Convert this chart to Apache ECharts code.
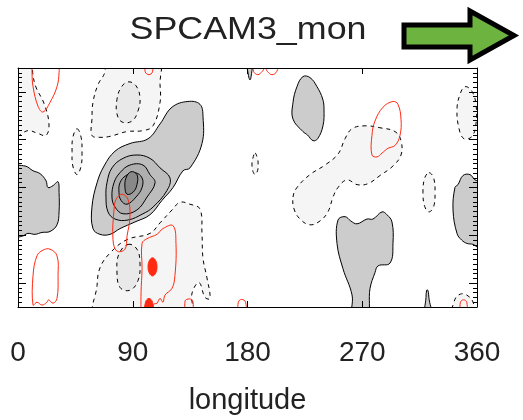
<!DOCTYPE html>
<html>
<head>
<meta charset="utf-8">
<script src="https://cdn.jsdelivr.net/npm/echarts@6/dist/echarts.min.js"></script>
<style>html,body{margin:0;padding:0;background:#fff;}#c{width:523px;height:420px;}</style>
</head>
<body>
<div id="c"></div>
<script>
// ---- axis values ----
const lonTicks = [0, 90, 180, 270, 360];
const latMajorTicks = [-20, -10, 0, 10, 20];
const latRange = [-25, 25];

// ---- negative contours (dashed, light fill) : [lon, lat] ----
const negTopLeft = [[-3,27],[11,27],[11.5,24],[14.1,21],[20.4,17.6],[24.3,13.3],[22,10.9],[15.7,11.3],[7.8,11.9],[-3,10.7]];
const negTopCenter = [[69.8,27],[68,24],[62.7,21.5],[58.8,17.8],[58,14.3],[58,10.9],[64.3,10.5],[72.2,10.7],[85.5,11.7],[98,11.9],[105.9,12.9],[111.4,17.8],[111.4,21.5],[109.8,27]];
const negSmallLeft = [[46.3,12.3],[49.5,10.5],[50.2,7.5],[49.5,4.5],[46.3,2.7],[43,4.5],[42.4,7.5],[43,10.5]];
const negLowerCenter = [[61.2,-27],[62,-20.5],[64.3,-16.8],[72.2,-13.7],[85.5,-10.9],[103.5,-9.6],[111.4,-7.4],[120.8,-4.7],[127.1,-3.1],[134.9,-3.5],[142.7,-4.5],[144.3,-9.6],[145.1,-14.8],[148.2,-18.9],[150.6,-23.2],[146.7,-23],[142,-19.9],[136.5,-22.1],[134.9,-27]];
const negUpperRight = [[215.7,-2],[218.8,0],[229,2.7],[240.8,4.7],[251,7],[256.5,10.2],[262,12.3],[272.2,12.9],[283.9,12.5],[295.7,11.7],[300.4,9.8],[300.4,6.8],[294.1,4.5],[283.9,2.5],[274.5,0.8],[265.9,0.6],[258,1.6],[251,0],[247.1,-2],[243.1,-5.1],[236.9,-7],[229,-7.8],[221.2,-6.6],[216.5,-4.5]];
const negRightEllipse = [[350.6,21.1],[356.1,20.1],[359.2,17.4],[359.2,13.3],[356.1,10.7],[349.8,10.2],[345.9,12.3],[344.3,16.4],[346.7,19.5]];
const negSmallRight = [[322.4,3.1],[326,2],[327.1,-1],[326,-4],[322.4,-5.1],[319,-4],[317.6,-1],[319,2]];
const negTinyMid = [[185.9,7.2],[188,5.9],[188.3,4.9],[188,3.6],[185.9,2.7],[184,3.6],[183.5,4.9],[184,5.9]];
const negBottomRight = [[341.2,-27],[342.5,-23.5],[347,-22.3],[352,-22.5],[356.9,-24],[357.5,-27]];
// second negative level
const negInnerTop = [[86.3,22.1],[92.5,21.3],[95.7,18.8],[94.1,16],[89.4,13.9],[81.6,13.7],[77.6,15.4],[77.6,18.4],[80.8,20.9]];
const negInnerLower = [[86.3,-11.9],[93.3,-12.9],[95.7,-16],[94.1,-19.5],[87.8,-21.5],[80,-20.9],[77.6,-17.4],[79.2,-13.9]];

// ---- positive contours (solid, grey fill) ----
const posBigL1 = [[58.8,-8.6],[58,-4.1],[62,1],[67.5,4.5],[76.1,7.6],[87.8,9.2],[102,10.2],[111.4,13.3],[120.8,16.8],[133.3,18],[142.7,17.4],[145.1,14.8],[144.3,9.2],[134.9,4.1],[129.4,3.5],[121.6,0],[112.9,-2.7],[103.5,-5.7],[91.8,-7.2],[80,-8.6],[72.2,-9.8],[64.3,-9.8]];
const posLeft = [[-3,4.1],[5.5,4.5],[11.8,3.5],[17.3,2.9],[22,1.4],[23.5,0],[27.5,0.4],[31.4,1.2],[32.2,-1],[32.2,-5.1],[30.6,-7.8],[25.1,-9.2],[18.8,-9.4],[13.3,-9.8],[7.8,-9.6],[3.1,-10.2],[-3,-10.2]];
const posTopMid = [[223.5,23.2],[229,23],[234.5,21.1],[239,18.5],[240,16.4],[239.2,12.9],[235,10.2],[231.4,9.8],[227,11],[223.5,11.7],[215.7,14.3],[215.7,17.8],[218.8,21.1]];
const posTopSpike = [[179.6,27],[184.3,27],[183.5,24.5],[182,22.5],[180.4,24]];
const posBottomMid = [[251,-6.8],[256.5,-6.1],[261,-7],[265.9,-7.6],[273.7,-6.6],[278.4,-6.6],[285.5,-5.1],[289.4,-5.7],[293.3,-7.2],[294.1,-11.7],[291.8,-15.8],[282.4,-16.4],[280,-17.8],[276.1,-21.1],[273.7,-27],[262.7,-27],[262,-22.5],[254.9,-17],[250.2,-11.7]];
const posRight = [[363,1],[358.4,1.6],[354.5,2.7],[349,2.5],[345.1,0.6],[342.7,0],[341.2,-4.7],[344.3,-9.6],[348,-11],[352.2,-11.7],[356.9,-11.9],[363,-12.7]];
const posBottomSpike = [[319.2,-27],[320,-23],[320.5,-21.5],[321.5,-21.5],[322.5,-23.5],[324.7,-27]];
const posBigL2 = [[69,-2],[69.8,1],[73.7,4.1],[82.4,6.1],[93.3,6.8],[103.5,6.1],[111.4,4.1],[119.2,2],[116.9,-0.6],[105.9,-4.1],[98,-5.5],[86.3,-6.8],[76.1,-6.6],[70.6,-5.1]];
const posBigL3 = [[73.7,-2],[75.3,1],[80,3.1],[87.8,4.7],[98,4.7],[103.5,2.7],[107.5,1],[101.2,-2],[93.3,-4.7],[82.4,-5.5],[76.1,-4.1]];
const posBigL4 = [[79.2,-1],[80,1],[84.7,2.5],[91.8,3.1],[97.3,2],[97.3,0],[92.5,-2],[85.5,-3.5],[80.8,-2.7]];
const posBigL5 = [[83.9,0],[84.7,2],[88.6,3.3],[93.3,2.7],[93.3,0.6],[90.2,-1],[85.5,-1.4]];

// ---- red contours (second field) ----
const redTopLeft = [[11,27],[11,24],[11.8,21.1],[15.7,17],[19.6,15.8],[25.1,17.8],[30.6,21.1],[32.2,24],[32.2,27]];
const redTopSmall = [[99.6,27],[99.8,24.2],[102.7,23.6],[105.5,24.2],[105.9,27]];
const redTopWave = [[184.3,27],[184.8,24.3],[188.2,23.6],[191.6,24.3],[193.7,25],[195.5,24.3],[199.2,23.6],[203,24.3],[205.5,27]];
const redLowerRight = [[96.5,-27],[96.5,-22],[97.3,-17],[97.3,-11.7],[101.2,-10.7],[109,-9.8],[113.7,-8.6],[121.6,-8],[123.9,-11.7],[123.1,-18.4],[120.8,-21.1],[115.3,-22.5],[113.7,-24],[111.4,-23.2],[109,-24.2],[106,-24.5],[105,-27]];
const redBottom1 = [[131,-27],[131,-23.8],[132.5,-23.4],[136,-23.4],[137.3,-24],[137.3,-27]];
const redBottom2 = [[172.5,-27],[172.8,-24],[175.5,-23.4],[178.5,-24],[179,-27]];
const redBottom3 = [[346.7,-27],[347,-24],[349.5,-23.5],[352,-24],[352.2,-27]];
const redMidLoop = [[81.6,-1.4],[86.3,-2.5],[87.8,-6.1],[85.5,-10.2],[83.9,-12.9],[77.6,-13.3],[74.5,-10.9],[75.3,-4.7],[76.9,-2.5]];
const redLeftLoop = [[11.8,-24.6],[11.8,-18.4],[14.9,-14.3],[19.6,-13.1],[25.1,-12.9],[30.6,-14.3],[31.4,-18.4],[30.6,-23.2],[27.5,-24.2],[24,-23.5],[22.7,-24],[18.8,-24.6],[14.9,-24]];
const redRightLoop = [[277.6,6.8],[277.6,10.9],[280,13.9],[286.3,16.8],[294.1,18],[298,17.4],[300.4,14.3],[299.6,10.9],[295.7,8.8],[290.2,8.2],[285.5,7.2],[281.6,6.4]];
const redBlob1 = [[105.5,-14.7],[108,-15.3],[109,-16.6],[108,-17.9],[105.5,-18.5],[103,-17.9],[102,-16.6],[103,-15.3]];
const redBlob2 = [[102.7,-23.2],[105.5,-24],[105.9,-27],[99.6,-27],[100,-24]];

const RED = '#ff2a12';

function contourSeries(rings, style, closed, smooth) {
  return {
    type: 'custom', coordinateSystem: 'cartesian2d', clip: true, silent: true,
    data: rings.map(r => [r[0][0], r[0][1]]),
    renderItem: function (params, api) {
      const ring = rings[params.dataIndex];
      const pts = ring.map(p => api.coord(p));
      return { type: closed ? 'polygon' : 'polyline', shape: { points: pts, smooth: smooth }, style: Object.assign({}, style) };
    }
  };
}

const dashed = { stroke: '#000', lineWidth: 1, lineDash: [4, 4] };
const solid = { stroke: '#000', lineWidth: 1 };

const series = [
  contourSeries([negTopLeft, negTopCenter, negSmallLeft, negLowerCenter, negUpperRight, negRightEllipse, negSmallRight, negTinyMid, negBottomRight], Object.assign({ fill: '#f5f5f5' }, dashed), true, 0.4),
  contourSeries([negInnerTop, negInnerLower], Object.assign({ fill: '#e9e9e9' }, dashed), true, 0.4),
  contourSeries([posBigL1, posLeft, posTopMid, posTopSpike, posBottomMid, posRight, posBottomSpike], Object.assign({ fill: '#cccccc' }, solid), true, 0.4),
  contourSeries([posBigL2], Object.assign({ fill: '#bdbdbd' }, solid), true, 0.4),
  contourSeries([posBigL3], Object.assign({ fill: '#aeaeae' }, solid), true, 0.4),
  contourSeries([posBigL4], Object.assign({ fill: '#9e9e9e' }, solid), true, 0.4),
  contourSeries([posBigL5], Object.assign({ fill: '#888888' }, solid), true, 0.4),
  contourSeries([redTopLeft, redTopSmall, redTopWave, redLowerRight, redBottom1, redBottom2, redBottom3], { stroke: RED, lineWidth: 1, fill: null }, false, 0.4),
  contourSeries([redMidLoop, redLeftLoop, redRightLoop], { stroke: RED, lineWidth: 1, fill: null }, true, 0.4),
  contourSeries([redBlob1, redBlob2], { stroke: RED, lineWidth: 1, fill: RED }, true, 0.4)
];

const frameLine = { show: true, onZero: false, lineStyle: { color: '#000', width: 1 } };
const noLine = { show: false, onZero: false };
const fontFam = '"Liberation Sans", Arial, sans-serif';

const option = {
  backgroundColor: '#fff',
  animation: false,
  grid: { left: 18, right: 46, top: 68, bottom: 108, containLabel: false },
  xAxis: [
    { type: 'value', position: 'bottom', min: lonTicks[0], max: lonTicks[lonTicks.length - 1], interval: 90, z: 10,
      axisLine: frameLine, splitLine: { show: false },
      axisTick: { inside: true, length: 6, lineStyle: { color: '#000' } },
      axisLabel: { fontSize: 28, color: '#222', margin: 32, fontFamily: fontFam, customValues: lonTicks },
      name: 'longitude', nameLocation: 'middle', nameGap: 79,
      nameTextStyle: { fontSize: 29, color: '#222', fontFamily: fontFam } },
    { type: 'value', position: 'top', min: lonTicks[0], max: lonTicks[lonTicks.length - 1], interval: 90, z: 10,
      axisLine: frameLine, splitLine: { show: false },
      axisTick: { inside: true, length: 6, lineStyle: { color: '#000' } },
      axisLabel: { show: false } }
  ],
  yAxis: [
    { type: 'value', position: 'left', min: latRange[0], max: latRange[1], interval: 1, z: 10,
      axisLine: frameLine, splitLine: { show: false },
      axisTick: { inside: true, length: 4, lineStyle: { color: '#000' } }, axisLabel: { show: false } },
    { type: 'value', position: 'left', min: latRange[0], max: latRange[1], interval: 1, z: 10,
      axisLine: noLine, splitLine: { show: false },
      axisTick: { inside: true, length: 8, customValues: latMajorTicks, lineStyle: { color: '#000' } }, axisLabel: { show: false } },
    { type: 'value', position: 'right', min: latRange[0], max: latRange[1], interval: 1, z: 10,
      axisLine: frameLine, splitLine: { show: false },
      axisTick: { inside: true, length: 4, lineStyle: { color: '#000' } }, axisLabel: { show: false } },
    { type: 'value', position: 'right', min: latRange[0], max: latRange[1], interval: 1, z: 10,
      axisLine: noLine, splitLine: { show: false },
      axisTick: { inside: true, length: 8, customValues: latMajorTicks, lineStyle: { color: '#000' } }, axisLabel: { show: false } }
  ],
  graphic: [
    { type: 'text', x: 248, y: 30, scaleX: 1.12, z: 100,
      style: { text: 'SPCAM3_mon', font: '32px "Liberation Sans", Arial, sans-serif', fill: '#222', align: 'center', verticalAlign: 'middle' } },
    { type: 'polygon', z: 100,
      shape: { points: [[404, 25], [470, 25], [470, 11], [514, 35.5], [470, 60], [470, 47], [404, 47]] },
      style: { fill: '#6db33f', stroke: '#000', lineWidth: 5, lineJoin: 'miter', miterLimit: 10 } }
  ],
  series: series
};

const chart = echarts.init(document.getElementById('c'), null, { renderer: 'canvas' });
chart.setOption(option);
</script>
</body>
</html>
